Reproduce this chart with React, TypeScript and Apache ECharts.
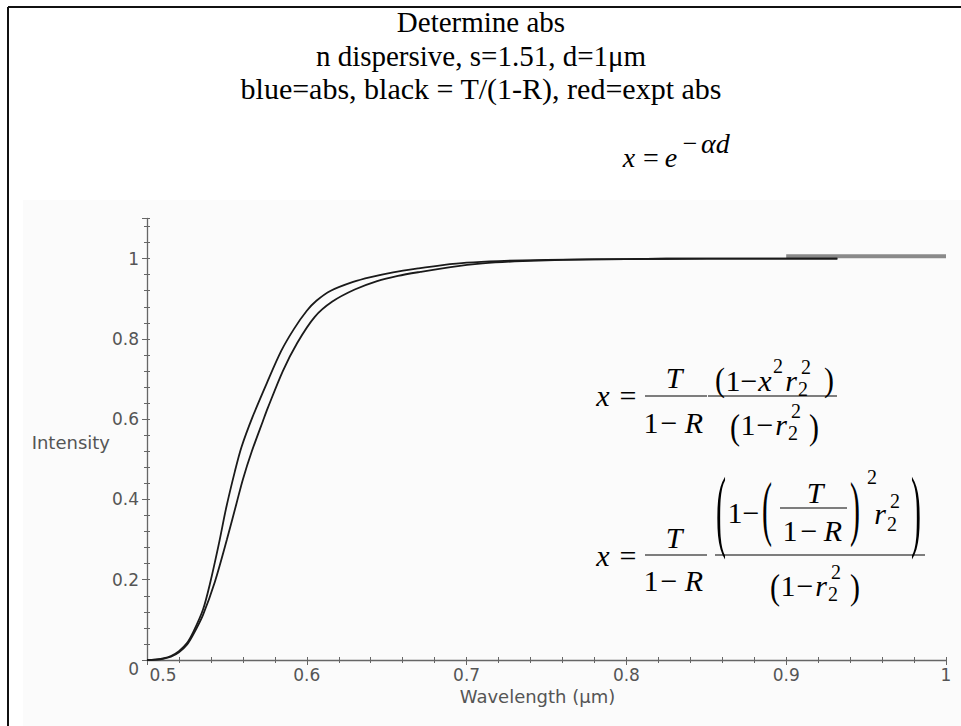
import React, { useEffect, useRef } from 'react';
import * as echarts from 'echarts';

// ---- data ----
const xTickLabels = ['0.5', '0.6', '0.7', '0.8', '0.9', '1'];
const yTickLabels = ['0', '0.2', '0.4', '0.6', '0.8', '1'];

const waveUpper = [0.5, 0.505, 0.51, 0.515, 0.52, 0.525, 0.529, 0.535, 0.5394, 0.545, 0.5496, 0.555, 0.5591, 0.566, 0.575, 0.584, 0.592, 0.6, 0.606, 0.615, 0.629, 0.64, 0.654, 0.67, 0.685, 0.7, 0.72, 0.75, 0.8, 0.85, 0.932];
const intensityUpper = [0, 0.001, 0.004, 0.01, 0.022, 0.042, 0.07, 0.125, 0.19, 0.29, 0.38, 0.47, 0.53, 0.605, 0.69, 0.77, 0.825, 0.87, 0.895, 0.92, 0.942, 0.954, 0.966, 0.976, 0.984, 0.99, 0.994, 0.997, 0.999, 1, 1];

const waveLower = [0.5, 0.505, 0.51, 0.515, 0.52, 0.525, 0.529, 0.535, 0.5425, 0.55, 0.556, 0.56, 0.5656, 0.5725, 0.5756, 0.585, 0.594, 0.605, 0.616, 0.63, 0.644, 0.657, 0.671, 0.69, 0.71, 0.73, 0.76, 0.8, 0.85, 0.932];
const intensityLower = [0, 0.001, 0.003, 0.008, 0.019, 0.038, 0.064, 0.112, 0.195, 0.3, 0.39, 0.45, 0.52, 0.595, 0.628, 0.72, 0.79, 0.855, 0.893, 0.923, 0.944, 0.957, 0.967, 0.979, 0.988, 0.993, 0.997, 0.999, 1, 1];

const waveExpt = [0.9, 1.0];
const intensityExpt = [1.006, 1.006];

const titleLines = ['Determine abs', 'n dispersive, s=1.51, d=1\u03bcm', 'blue=abs, black = T/(1-R), red=expt abs'];

const SERIF = '"Liberation Serif", "Times New Roman", serif';
const SANS = '"DejaVu Sans", sans-serif';
const MINUS = '\u2212';

function glyph(ch: string, cx: number, cy: number, size = 30, italic = false, sy = 1, align = 'center') {
  return {
    type: 'text',
    x: cx,
    y: cy,
    scaleY: sy,
    silent: true,
    style: {
      text: ch,
      font: `${italic ? 'italic ' : ''}${size}px ${SERIF}`,
      fill: '#000',
      textAlign: align,
      textVerticalAlign: 'middle',
    },
  };
}
function bar(x1: number, x2: number, y: number) {
  return { type: 'line', silent: true, shape: { x1, y1: y, x2, y2: y }, style: { stroke: '#000', lineWidth: 1.2 } };
}

function buildGraphics() {
  const els: any[] = [];
  els.push({ type: 'rect', z: -10, silent: true, shape: { x: 23, y: 200, width: 938, height: 526 }, style: { fill: '#fbfbfb' } });
  els.push({ type: 'line', silent: true, shape: { x1: 8, y1: 7, x2: 961, y2: 7 }, style: { stroke: '#111', lineWidth: 2 } });
  els.push({ type: 'line', silent: true, shape: { x1: 8, y1: 7, x2: 8, y2: 726 }, style: { stroke: '#111', lineWidth: 2 } });
  const ty = [22, 56, 88];
  titleLines.forEach((t, i) => {
    els.push({ type: 'text', x: 481, y: ty[i], silent: true, style: { text: t, font: `${i === 2 ? 30 : 29}px ${SERIF}`, fill: '#000', textAlign: 'center', textVerticalAlign: 'middle' } });
  });
  // x = e^{-alpha d}
  els.push(glyph('x', 629, 157, 28, true));
  els.push(glyph('=', 651, 157, 28));
  els.push(glyph('e', 671, 157, 28, true));
  els.push(glyph(MINUS, 690, 143, 26));
  els.push(glyph('\u03b1d', 701, 143, 28, true, 1, 'left'));
  // Intensity
  els.push({ type: 'text', x: 110, y: 442, silent: true, style: { text: 'Intensity', font: `18px ${SANS}`, fill: '#555', textAlign: 'right', textVerticalAlign: 'middle' } });

  // Formula 1
  els.push(glyph('x', 603, 395, 30, true));
  els.push(glyph('=', 628, 395, 30));
  els.push(glyph('T', 674, 377, 30, true));
  els.push(bar(645, 707, 396));
  els.push(glyph('1', 651, 422));
  els.push(glyph(MINUS, 669, 422));
  els.push(glyph('R', 694, 422, 30, true));
  els.push(bar(708, 837, 396));
  els.push(glyph('(', 720, 379, 30, false, 1.15));
  els.push(glyph('1', 733, 380));
  els.push(glyph(MINUS, 749, 380));
  els.push(glyph('x', 765, 380, 30, true));
  els.push(glyph('2', 778, 366, 20));
  els.push(glyph('r', 791, 380, 30, true));
  els.push(glyph('2', 803, 389, 20));
  els.push(glyph('2', 806, 367, 20));
  els.push(glyph(')', 829, 379, 30, false, 1.15));
  els.push(glyph('(', 735, 427, 30, false, 1.2));
  els.push(glyph('1', 748, 424));
  els.push(glyph(MINUS, 765, 424));
  els.push(glyph('r', 781, 424, 30, true));
  els.push(glyph('2', 793, 433, 20));
  els.push(glyph('2', 796, 411, 20));
  els.push(glyph(')', 814, 427, 30, false, 1.2));

  // Formula 2
  els.push(glyph('x', 603, 555, 30, true));
  els.push(glyph('=', 628, 555, 30));
  els.push(glyph('T', 674, 537, 30, true));
  els.push(bar(645, 707, 555));
  els.push(glyph('1', 651, 580));
  els.push(glyph(MINUS, 669, 580));
  els.push(glyph('R', 694, 580, 30, true));
  els.push(bar(715, 925, 555));
  els.push(glyph('(', 721, 510, 30, false, 3));
  els.push(glyph('1', 735, 512));
  els.push(glyph(MINUS, 751, 512));
  els.push(glyph('(', 767, 508, 30, false, 2.4));
  els.push(glyph('T', 815, 492, 30, true));
  els.push(bar(780, 847, 508));
  els.push(glyph('1', 790, 530));
  els.push(glyph(MINUS, 809, 530));
  els.push(glyph('R', 833, 530, 30, true));
  els.push(glyph(')', 855, 508, 30, false, 2.4));
  els.push(glyph('2', 872, 477, 20));
  els.push(glyph('r', 880, 513, 30, true));
  els.push(glyph('2', 892, 524, 20));
  els.push(glyph('2', 895, 501, 20));
  els.push(glyph(')', 916, 510, 30, false, 3));
  els.push(glyph('(', 775, 587, 30, false, 1.2));
  els.push(glyph('1', 788, 585));
  els.push(glyph(MINUS, 805, 585));
  els.push(glyph('r', 821, 585, 30, true));
  els.push(glyph('2', 833, 594, 20));
  els.push(glyph('2', 836, 572, 20));
  els.push(glyph(')', 855, 587, 30, false, 1.2));
  return els;
}

const AXIS_COLOR = '#666';
const labelStyle = { fontFamily: SANS, fontSize: 17, color: '#555' };

export default function App() {
  const ref = useRef<HTMLDivElement>(null);
  useEffect(() => {
    if (!ref.current) return;
    const chart = echarts.init(ref.current, undefined, { renderer: 'svg' });
    const xFmt = (v: number) => {
      const i = Math.round((v - 0.5) / 0.1);
      if (Math.abs(v - (0.5 + i * 0.1)) > 1e-6 || i < 0 || i >= xTickLabels.length) return '';
      return i === 0 ? `{first|${xTickLabels[0]}}` : xTickLabels[i];
    };
    const yFmt = (v: number) => {
      const i = Math.round(v / 0.2);
      if (Math.abs(v - i * 0.2) > 1e-6 || i < 0 || i >= yTickLabels.length) return '';
      return i === 0 ? `{zero|${yTickLabels[0]}}` : yTickLabels[i];
    };
    const baseX = { type: 'value', min: 0.5, max: 1.0, interval: 0.1, splitLine: { show: false }, minorSplitLine: { show: false } };
    const baseY = { type: 'value', min: 0, max: 1.1, interval: 0.2, splitLine: { show: false }, minorSplitLine: { show: false } };
    const lineSeries = (name: string, xs: number[], ys: number[]) => ({
      name,
      type: 'line',
      data: xs.map((w, i) => [w, ys[i]]),
      showSymbol: false,
      smooth: 0.3,
      lineStyle: { color: '#1a1a1a', width: 1.8 },
      z: 3,
    });
    const option: any = {
      animation: false,
      backgroundColor: 'transparent',
      grid: { left: 147, top: 218.5, width: 799, height: 441.5, containLabel: false },
      xAxis: [
        {
          ...baseX,
          position: 'bottom',
          axisLine: { show: true, onZero: false, lineStyle: { color: AXIS_COLOR, width: 1.3 } },
          axisTick: { show: true, length: 5, lineStyle: { color: AXIS_COLOR } },
          minorTick: { show: true, splitNumber: 5, length: 3, lineStyle: { color: AXIS_COLOR } },
          axisLabel: { ...labelStyle, margin: 6, formatter: xFmt, rich: { first: { ...labelStyle, padding: [0, 0, 0, 32] } } },
          name: 'Wavelength (\u03bcm)',
          nameLocation: 'middle',
          nameGap: 24,
          nameTextStyle: { ...labelStyle, fontSize: 18, padding: [0, 18, 0, 0] },
        },
        {
          ...baseX,
          position: 'bottom',
          axisLine: { show: false },
          axisTick: { show: true, inside: true, length: 3, lineStyle: { color: AXIS_COLOR } },
          minorTick: { show: true, splitNumber: 5, length: 3, lineStyle: { color: AXIS_COLOR } },
          axisLabel: { show: false },
        },
      ],
      yAxis: [
        {
          ...baseY,
          position: 'left',
          axisLine: { show: true, onZero: false, lineStyle: { color: AXIS_COLOR, width: 1.3 } },
          axisTick: { show: true, length: 5, lineStyle: { color: AXIS_COLOR } },
          minorTick: { show: true, splitNumber: 5, length: 3, lineStyle: { color: AXIS_COLOR } },
          axisLabel: { ...labelStyle, margin: 8, showMaxLabel: false, formatter: yFmt, rich: { zero: { ...labelStyle, padding: [18, 0, 0, 0] } } },
        },
        {
          ...baseY,
          position: 'left',
          axisLine: { show: false },
          axisTick: { show: true, inside: true, length: 3, lineStyle: { color: AXIS_COLOR } },
          minorTick: { show: true, splitNumber: 5, length: 3, lineStyle: { color: AXIS_COLOR } },
          axisLabel: { show: false },
        },
      ],
      series: [
        {
          name: 'expt abs',
          type: 'line',
          data: waveExpt.map((w, i) => [w, intensityExpt[i]]),
          showSymbol: false,
          lineStyle: { color: '#8a8a8a', width: 4 },
          z: 1,
        },
        lineSeries('abs', waveUpper, intensityUpper),
        lineSeries('T/(1-R)', waveLower, intensityLower),
      ],
      graphic: { elements: buildGraphics() },
    };
    chart.setOption(option);
    return () => chart.dispose();
  }, []);
  return <div ref={ref} style={{ position: 'fixed', left: 0, top: 0, width: 961, height: 726, background: '#fff' }} />;
}
